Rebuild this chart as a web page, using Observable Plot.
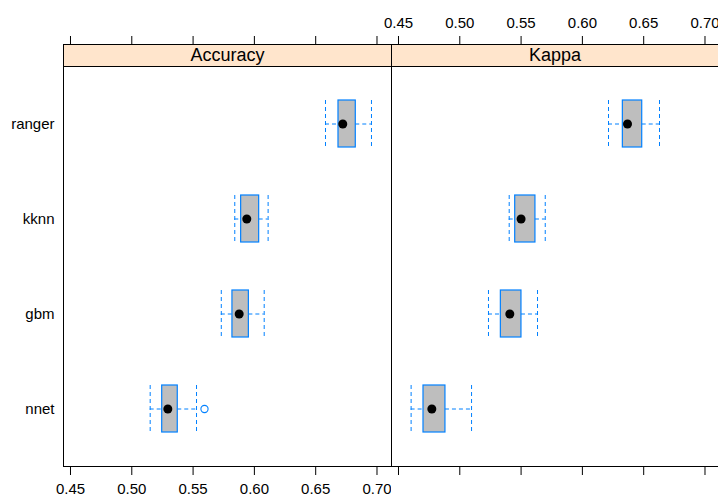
<!DOCTYPE html>
<html><head><meta charset="utf-8">
<script src="https://cdn.jsdelivr.net/npm/d3@7"></script>
<script src="https://cdn.jsdelivr.net/npm/@observablehq/plot@0.6"></script>
<style>
body{margin:0;overflow:hidden;background:#fff}
#chart{display:flex;flex-direction:row}
#chart svg{display:block;overflow:visible !important}
</style>
</head><body><div id="chart"></div>
<script>
// Categories (top to bottom) and panels
const models = ["ranger", "kknn", "gbm", "nnet"];
const metrics = ["Accuracy", "Kappa"];
const tickValues = [0.45, 0.50, 0.55, 0.60, 0.65, 0.70];

// Five-number summaries per model: lower whisker, Q1, median, Q3, upper whisker
const accLow    = [0.658, 0.584, 0.573, 0.515];
const accQ1     = [0.6686, 0.5892, 0.5821, 0.5248];
const accMedian = [0.6721, 0.5938, 0.5876, 0.5294];
const accQ3     = [0.6827, 0.6039, 0.5955, 0.5375];
const accHigh   = [0.6955, 0.6112, 0.608, 0.5528];

const kapLow    = [0.6213, 0.5403, 0.5234, 0.4603];
const kapQ1     = [0.633, 0.5452, 0.5335, 0.4704];
const kapMedian = [0.6368, 0.55, 0.5408, 0.4772];
const kapQ3     = [0.6488, 0.5617, 0.5503, 0.4883];
const kapHigh   = [0.6629, 0.5697, 0.5634, 0.5096];

// Outliers
const outMetric = ["Accuracy"];
const outModel  = ["nnet"];
const outValue  = [0.5593];

const summaries = {
  Accuracy: [accLow, accQ1, accMedian, accQ3, accHigh],
  Kappa: [kapLow, kapQ1, kapMedian, kapQ3, kapHigh]
};

const blue = "#0080ff";
const dash = "4,3";
const fmt = d3.format(".2f");

function panel(metric, isLeft) {
  const [lo, q1, med, q3, hi] = summaries[metric];
  const rows = models.map((m, i) => ({model: m, lo: lo[i], q1: q1[i], med: med[i], q3: q3[i], hi: hi[i]}));
  const outs = outValue.map((v, i) => ({metric: outMetric[i], model: outModel[i], value: v}))
    .filter(d => d.metric === metric);
  const width = isLeft ? 391 : 327;
  const marginLeft = isLeft ? 63 : 0;
  const plotW = width - marginLeft;
  const x0 = 0.4443;
  const x1 = x0 + plotW / 1226;
  return Plot.plot({
    width,
    height: 497,
    marginLeft,
    marginRight: 0,
    marginTop: 44,
    marginBottom: 31,
    style: {fontFamily: "'Liberation Sans', Arial, sans-serif", fontSize: "15px", color: "black", background: "white", overflow: "visible"},
    x: {domain: [x0, x1]},
    y: {type: "band", domain: models, paddingInner: 0.51, paddingOuter: 0.35, insetTop: 22, axis: isLeft ? undefined : null},
    marks: [
      Plot.frame({stroke: "black", insetTop: 22}),
      Plot.frame({stroke: "black", fill: "#ffe5cc", insetBottom: 400}),
      Plot.text([metric], {frameAnchor: "top", dy: 11, text: d => d, fontSize: 18, lineAnchor: "middle", fill: "black"}),
      Plot.axisX({anchor: "bottom", ticks: tickValues, tickSize: 9, tickPadding: 8,
        tickFormat: isLeft ? fmt : () => "", label: null, stroke: "black"}),
      Plot.axisX({anchor: "top", ticks: tickValues, tickSize: 9, tickPadding: 8,
        tickFormat: isLeft ? () => "" : fmt, label: null, stroke: "black"}),
      ...(isLeft ? [Plot.axisY({tickSize: 0, tickPadding: 9, label: null})] : []),
      Plot.ruleY(rows, {y: "model", x1: "lo", x2: "q1", stroke: blue, strokeDasharray: dash}),
      Plot.ruleY(rows, {y: "model", x1: "q3", x2: "hi", stroke: blue, strokeDasharray: dash}),
      Plot.tickX(rows, {x: "lo", y: "model", stroke: blue, strokeDasharray: dash}),
      Plot.tickX(rows, {x: "hi", y: "model", stroke: blue, strokeDasharray: dash}),
      Plot.barX(rows, {x1: "q1", x2: "q3", y: "model", fill: "#bebebe", stroke: blue, strokeWidth: 1.2}),
      Plot.dot(rows, {x: "med", y: "model", r: 4.5, fill: "black", stroke: "none"}),
      Plot.dot(outs, {x: "value", y: "model", r: 3.6, fill: "none", stroke: blue, strokeWidth: 1.1})
    ]
  });
}

const chart = document.getElementById("chart");
chart.appendChild(panel("Accuracy", true));
chart.appendChild(panel("Kappa", false));
</script>
</body></html>
